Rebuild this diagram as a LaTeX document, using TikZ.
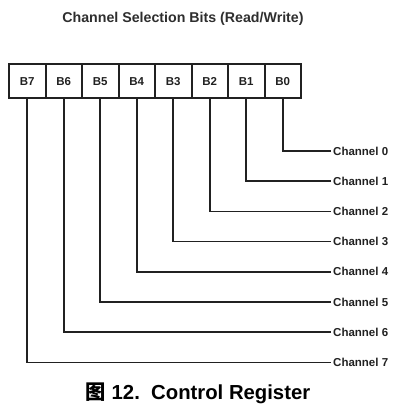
\documentclass[tikz,border=0pt]{standalone}
\usepackage{fontspec}
\setmainfont{Liberation Sans}
\newfontfamily\cjk{Noto Sans CJK SC}
\begin{document}
\begin{tikzpicture}[x=1pt,y=-1pt,
  cell/.style={draw=black!87,line width=2pt,minimum width=36.5pt,minimum height=34.5pt,inner sep=0pt,
    text height=8pt,text depth=0pt,
    font=\fontsize{11.5}{13}\selectfont\bfseries,text=black!87},
  chan/.style={anchor=west,inner sep=2.5pt,font=\fontsize{11.5}{13}\selectfont\bfseries,text=black!87},
  wire/.style={draw=black!87,line width=1.7pt}]
\useasboundingbox (0,0) rectangle (407,411);
\node[font=\fontsize{14.2}{16}\selectfont\bfseries,text=black!82] (title) at (183,19) {Channel Selection Bits (Read/Write)};
\foreach \b [count=\i from 0] in {7,6,5,4,3,2,1,0}{
  \node[cell] (b\b) at ({27.25+36.5*\i},81.25) {B\b};
}
\foreach \c in {0,...,7}{
  \node[chan] (c\c) at (330.5,{151+30.2*\c}) {Channel \c};
  \draw[wire] (b\c.south) |- (c\c.west);
}
\node[font=\fontsize{20.3}{23}\selectfont\bfseries] (cap) at (198,393) {{\cjk 图} 12.\ \ Control Register};
\end{tikzpicture}
\end{document}
